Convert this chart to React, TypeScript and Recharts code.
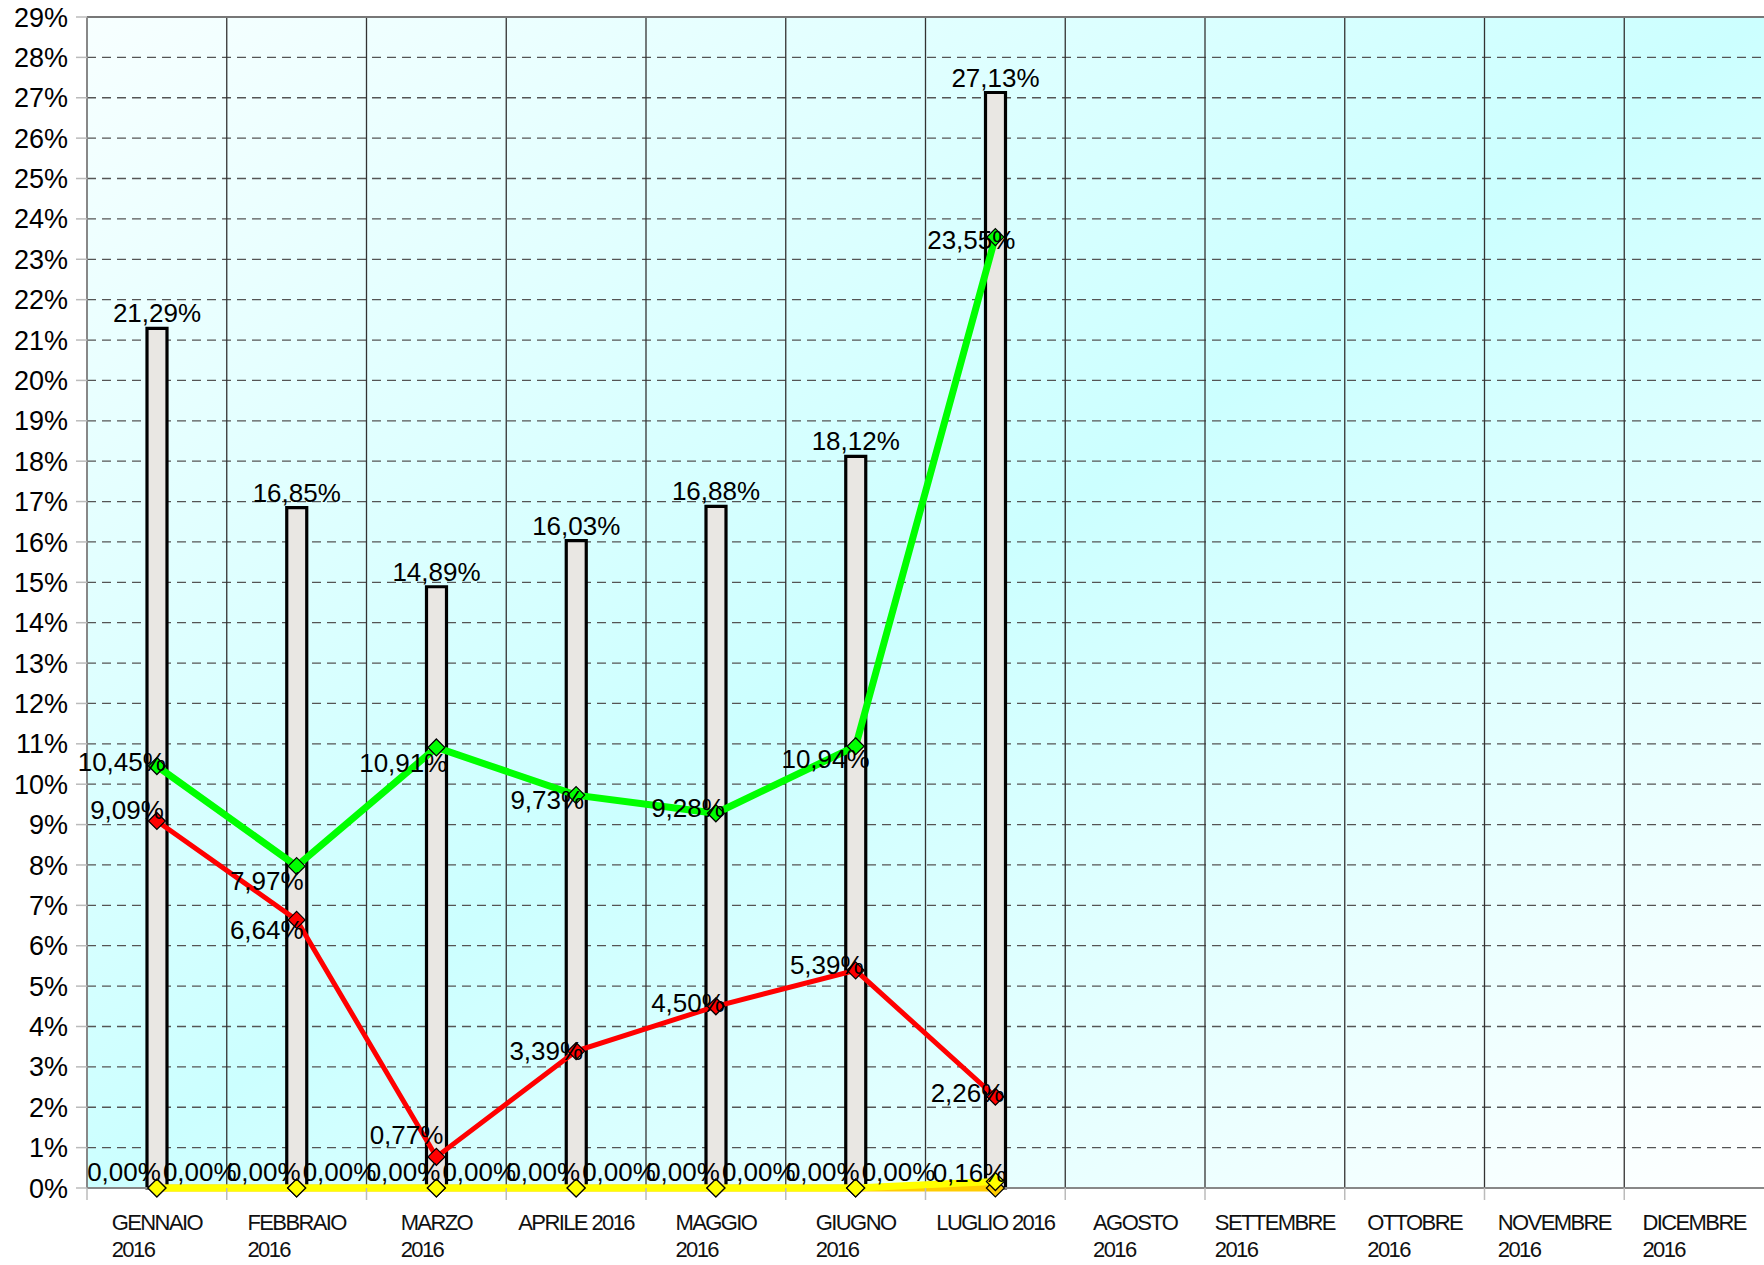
import { ComposedChart, Bar, Line, XAxis, YAxis, CartesianGrid, LabelList, ReferenceLine } from "recharts";

const months = [
  "GENNAIO\n2016",
  "FEBBRAIO\n2016",
  "MARZO\n2016",
  "APRILE 2016",
  "MAGGIO\n2016",
  "GIUGNO\n2016",
  "LUGLIO 2016",
  "AGOSTO\n2016",
  "SETTEMBRE\n2016",
  "OTTOBRE\n2016",
  "NOVEMBRE\n2016",
  "DICEMBRE\n2016",
];
const barValues = [21.29, 16.85, 14.89, 16.03, 16.88, 18.12, 27.13];
const greenValues = [10.45, 7.97, 10.91, 9.73, 9.28, 10.94, 23.55];
const redValues = [9.09, 6.64, 0.77, 3.39, 4.5, 5.39, 2.26];
const yellowValues = [0, 0, 0, 0, 0, 0, 0.16];
const orangeValues = [0, 0, 0, 0, 0, 0, 0];
const yTicks = [0, 1, 2, 3, 4, 5, 6, 7, 8, 9, 10, 11, 12, 13, 14, 15, 16, 17, 18, 19, 20, 21, 22, 23, 24, 25, 26, 27, 28, 29];

// label nudges (px), tuned by eye: [dx of text end, dy of text middle]
const greenLabelDx = [9, 7, 11, 8, 9, 14, 20];
const greenLabelDy = [-4, 15, 16, 5, -5, 13, 3];
const redLabelDx = [7, 7, 7, 7, 9, 8, 9];
const redLabelDy = [-11, 10, -22, 0, -3, -5, -4];

const W = 1764;
const H = 1265;
const PLOT_LEFT = 87;
const BAND = (W - PLOT_LEFT) / months.length;
const FONT = "'Liberation Sans', Arial, sans-serif";

const data = months.map((m, i) => ({
  month: m,
  bar: barValues[i] ?? null,
  green: greenValues[i] ?? null,
  red: redValues[i] ?? null,
  yellow: yellowValues[i] ?? null,
  orange: orangeValues[i] ?? null,
}));

const pct = (v: number) => v.toFixed(2).replace(".", ",") + "%";

let ctx: CanvasRenderingContext2D | null = null;
function textWidth(s: string, size: number, spacing: number) {
  if (!ctx) ctx = document.createElement("canvas").getContext("2d");
  if (!ctx) return s.length * size * 0.55;
  ctx.font = `${size}px 'Liberation Sans'`;
  return ctx.measureText(s).width + spacing * s.length;
}

function MonthTick({ x, y, payload }: any) {
  const lines = String(payload.value).split("\n");
  const size = 22;
  const ls = -1.6;
  const w = Math.max(...lines.map((l) => textWidth(l, size, ls)));
  const left = x - w / 2;
  return (
    <g>
      <line x1={x - BAND / 2} x2={x - BAND / 2} y1={y} y2={y + 12} stroke="#bbb" strokeWidth={1.5} />
      {lines.map((l, i) => (
        <text key={i} x={left} y={y + 42 + i * 27} fontSize={size} letterSpacing={ls} fontFamily={FONT} fill="#111">
          {l}
        </text>
      ))}
    </g>
  );
}

function diamond(fill: string, r: number) {
  return (props: any) => {
    const { cx, cy, index } = props;
    if (cx == null || cy == null || props.value == null) return <g key={`d${index}`} />;
    return (
      <polygon
        key={`d${index}`}
        points={`${cx},${cy - r} ${cx + r},${cy} ${cx},${cy + r} ${cx - r},${cy}`}
        fill={fill}
        stroke="#000"
        strokeWidth={1.2}
      />
    );
  };
}

function endLabel(dxs: number[], dys: number[]) {
  return (props: any) => {
    const { x, y, value, index } = props;
    if (value == null) return null;
    return (
      <text x={x + dxs[index]} y={y + dys[index]} textAnchor="end" dominantBaseline="central" fontSize={26} fontFamily={FONT} fill="#000">
        {pct(value)}
      </text>
    );
  };
}

function yellowLabel(props: any) {
  const { x, y, value, index } = props;
  if (value == null) return null;
  const last = index === yellowValues.length - 1;
  return (
    <text x={x + (last ? 11 : 4)} y={y + (last ? -9 : -16)} textAnchor="end" dominantBaseline="central" fontSize={26} fontFamily={FONT} fill="#000">
      {pct(value)}
    </text>
  );
}

function orangeLabel(props: any) {
  const { x, y, value, index } = props;
  // the last orange label is not shown in the source chart
  if (value == null || index === orangeValues.length - 1) return null;
  return (
    <text x={x + 6} y={y - 16} textAnchor="start" dominantBaseline="central" fontSize={26} fontFamily={FONT} fill="#000">
      {pct(value)}
    </text>
  );
}

function barLabel(props: any) {
  const { x, y, width, value } = props;
  if (value == null) return null;
  return (
    <text x={x + width / 2} y={y - 15} textAnchor="middle" dominantBaseline="central" fontSize={26} fontFamily={FONT} fill="#000">
      {pct(value)}
    </text>
  );
}

export default function App() {
  return (
    <div style={{ position: "absolute", left: 0, top: 0, width: W, height: H, background: "#fff" }}>
      <ComposedChart width={W} height={H} data={data} margin={{ top: 17, right: 0, bottom: 0, left: 0 }}>
        <defs>
          <linearGradient id="plotBg" x1="0" y1="0" x2="1" y2="1">
            <stop offset="0%" stopColor="#f7ffff" />
            <stop offset="50%" stopColor="#ccffff" />
            <stop offset="100%" stopColor="#ffffff" />
          </linearGradient>
        </defs>
        <CartesianGrid
          horizontal
          vertical={false}
          fill="url(#plotBg)"
          fillOpacity={1}
          stroke="#555"
          strokeWidth={1.3}
          strokeDasharray="9 6"
        />
        <CartesianGrid
          horizontal={false}
          vertical
          stroke="#333"
          strokeWidth={1.3}
          verticalCoordinatesGenerator={({ offset }: any) =>
            months.map((_, i) => offset.left + (i * offset.width) / months.length).slice(1)
          }
        />
        <ReferenceLine y={29} stroke="#777" strokeWidth={2} />
        <ReferenceLine y={0} stroke="#888" strokeWidth={2} />
        <XAxis
          dataKey="month"
          height={77}
          interval={0}
          tick={<MonthTick />}
          tickLine={false}
          tickSize={0}
          tickMargin={0}
          axisLine={false}
        />
        <YAxis
          width={PLOT_LEFT}
          domain={[0, 29]}
          ticks={yTicks}
          interval={0}
          tickFormatter={(v) => `${v}%`}
          tick={{ fontSize: 27, fill: "#000", fontFamily: FONT }}
          tickSize={11}
          tickMargin={8}
          tickLine={{ stroke: "#bbb", strokeWidth: 1.5 }}
          axisLine={{ stroke: "#888", strokeWidth: 2 }}
        />
        <Bar dataKey="bar" barSize={20} fill="#e9e7e3" stroke="#000" strokeWidth={3.2} isAnimationActive={false}>
          <LabelList dataKey="bar" content={barLabel} />
        </Bar>
        <Line
          dataKey="orange"
          stroke="#ffcc00"
          strokeWidth={7}
          dot={diamond("#ffcc00", 9)}
          activeDot={false}
          isAnimationActive={false}
        >
          <LabelList dataKey="orange" content={orangeLabel} />
        </Line>
        <Line
          dataKey="yellow"
          stroke="#ffff00"
          strokeWidth={7}
          dot={diamond("#ffff00", 9)}
          activeDot={false}
          isAnimationActive={false}
        >
          <LabelList dataKey="yellow" content={yellowLabel} />
        </Line>
        <Line
          dataKey="red"
          stroke="#ff0000"
          strokeWidth={5}
          dot={diamond("#ff0000", 8.5)}
          activeDot={false}
          isAnimationActive={false}
        >
          <LabelList dataKey="red" content={endLabel(redLabelDx, redLabelDy)} />
        </Line>
        <Line
          dataKey="green"
          stroke="#00ff00"
          strokeWidth={7}
          dot={diamond("#00ff00", 8.5)}
          activeDot={false}
          isAnimationActive={false}
        >
          <LabelList dataKey="green" content={endLabel(greenLabelDx, greenLabelDy)} />
        </Line>
      </ComposedChart>
    </div>
  );
}
